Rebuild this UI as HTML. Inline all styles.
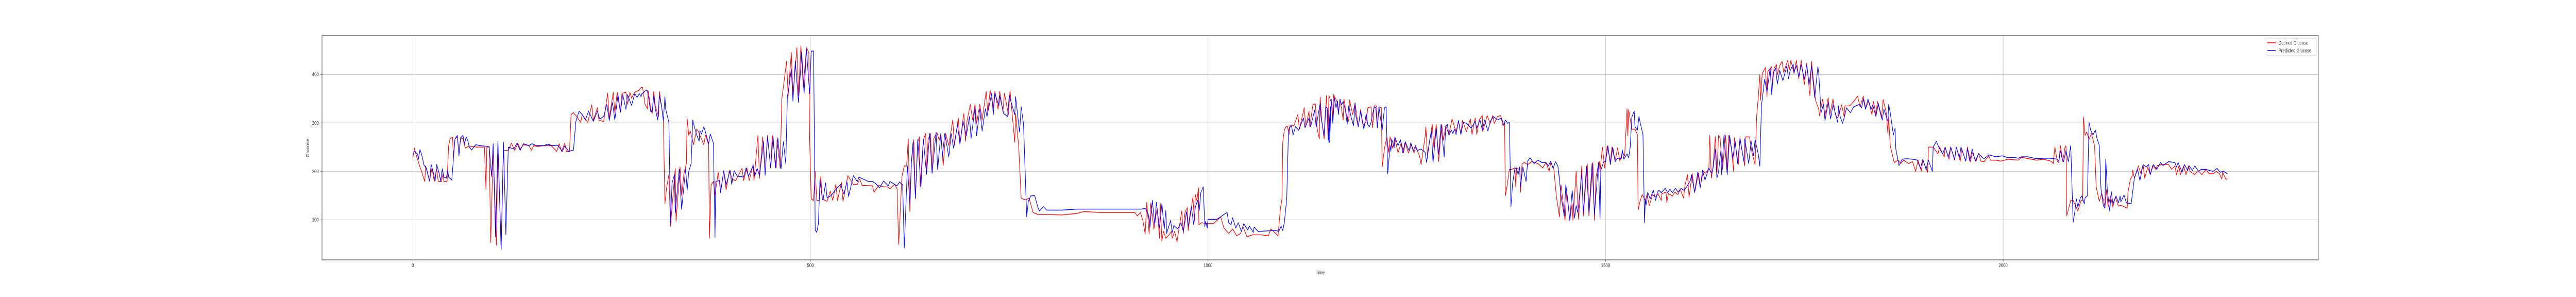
<!DOCTYPE html>
<html><head><meta charset="utf-8"><style>
html,body{margin:0;padding:0;background:#fff;width:100vw;height:100vh;overflow:hidden;}
svg{display:block;width:100vw;height:100vh;font-family:"Liberation Sans","DejaVu Sans",sans-serif;}
</style></head><body>
<svg id="chart" viewBox="0 0 6408 576" preserveAspectRatio="none" xmlns="http://www.w3.org/2000/svg">
<rect x="0" y="0" width="6408" height="576" fill="#fff"/>
<g id="grid"></g>
<g id="series"></g>
<rect x="801" y="69" width="4966" height="435" fill="none" stroke="#222" stroke-width="1"/>
<g id="ticks"></g>
<text x="3284" y="532" font-size="10" text-anchor="middle" fill="#222">Time</text>
<text x="0" y="0" font-size="10" text-anchor="middle" fill="#222" transform="translate(769,287) rotate(-90)">Glucose</text>
<g>
<rect x="5637" y="74" width="125" height="33" fill="#fff" stroke="#ccc" rx="2"/>
<line x1="5640" y1="83" x2="5661" y2="83" stroke="#f00" stroke-width="1.5"/>
<text x="5668" y="86.5" font-size="10" fill="#222">Desired Glucose</text>
<line x1="5640" y1="98" x2="5661" y2="98" stroke="#00f" stroke-width="1.5"/>
<text x="5668" y="101.5" font-size="10" fill="#222">Predicted Glucose</text>
</g>
</svg>
<script>
const xTicks=[0,500,1000,1500,2000];
const yTicks=[100,200,300,400];
const desiredT=[0,2,4,8,15,16,21,24,27,30,32,36,38,39,43,45,47,50,51,53,56,58,60,63,66,71,81,90,92,93,96,98,101,105,107,111,114,120,124,128,132,135,139,146,149,152,157,165,174,181,184,187,191,193,197,199,202,206,211,213,220,225,227,232,234,240,245,247,252,254,257,261,263,268,270,273,275,279,284,
287,289,292,295,296,299,301,303,305,309,310,313,315,317,319,322,324,330,331,336,338,341,344,345,347,349,353,357,359,366,368,372,373,375,378,380,384,387,391,394,398,402,406,414,416,420,423,428,429,434,436,440,443,446,450,452,457,458,462,464,466,470,472,476,478,483,485,488,491,495,498,499,501,504,506,508,511,513,515,521,525,528,532,534,539,541,547,554,559,562,565,578,
580,586,592,597,600,606,609,611,615,618,621,623,625,627,630,632,635,637,638,642,645,646,648,651,653,655,659,662,664,667,670,674,679,681,686,688,692,693,695,697,701,704,707,709,713,716,721,723,726,730,732,736,738,742,744,749,751,757,758,762,765,767,771,775,780,786,797,816,835,844,866,
908,911,915,918,921,923,926,928,932,936,939,940,942,944,947,951,954,955,958,961,964,967,969,971,974,975,981,983,984,986,988,988.5,992,999,1007,1016,1020,1026,1031,1036,1041,1044,1049,1056,1067,1076,1079,1085,1088,1091,1093,1094,1096,1098,1100,1102,1103,1108,1113,1115,1121,1123,1127,1128,1132,1135,1137,1140,1141,1143,1146,1149,1151,1152,
1156,1157,1158,1162,1164,1166,1170,1171,1174,1177,1178,1182,1185,1189,1192,1194,1196,1199,1201,1205,1207,1209,1212,1213,1215,1218,1219,1222,1225,1227,1229,1232,1235,1239,1243,1246,1248,1252,1256,1259,1261,1266,1268,1273,1274,1276,1282,1284,1287,1290,1294,1296,1299,1303,1307,1309,1312,1315,1318,1320,1325,1330,1332,1336,1338,1341,1345,1345.5,1351,1355,1358,1360,1364,1368,1371,1373,1374,1376,1379,1382,1386,1387,1388,1392,1393,1395,1398,1402,1407,1415,1421,1425,1429,1431,1435,1438,1442,
1444,1449,1451,1455,1458,1459,1463,1466,1470,1472,1477,1479,1484,1486,1488,1492,1493,1496,1499,1502,1506,1508,1512,1515,1518,1521,1524,1527,1528,1529,1533,1537,1540,1541,1543,1546,1550,1552,1555,1559,1563,1566,1570,1571,1576,1577,1579,1584,1587,1591,1594,1598,1600,1603,1605,1609,1612,1617,1619,1622,1623,1626,1630,1631,1633,1635,1638,1640,1642,1644,1647,1651,1653,1655,1658,1661,1662,1667,1669,1675,1676,1681,1684,1688,1690,1692,1694,1695,1697,1701,1703,1704,1709,1710,1712,1715,1716,1719,1722,1724,1729,
1731,1733,1737,1740,1743,1746,1750,1753,1757,1759,1764,1768,1769,1773,1776,1780,1782,1786,1789,1792,1797,1800,1801,1807,1812,1817,1820,1824,1827,1831,1835,1837,1840,1842,1847,1849,1853,1855,1856,1858,1863,1868,1871,1875,1881,1886,1890,1893,1897,1899,1905,1906,1912,1918,1920,1926,1927,1932,1934,1939,1941,1946,1948,1953,1955,1959,1961,1966,1969,1972,1976,1982,1984,1991,1997,2006,2019,
2023,2032,2042,2051,2060,2063,2065,2068,2070,2072,2075,2078,2079,2080,2085,2088,2094,2098,2100,2101,2103,2105,2108,2111,2115,2117,2121,2124,2128,2130,2132,2135,2138,2141,2145,2148,2156,2157,2160,2162,2163,2165,2170,2173,2176,2178,2182,2185,2188,2192,2194,2201,2208,2212,2216,2218,2221,2223,2227,2230,2233,2235,2241,2245,2250,2255,2259,2264,2268,2272,2275,2276,2280,2282];
const desiredV=[228,248,235,214,179,211,180,207,179,204,179,179,198,179,179,253,268,270,232,267,271,235,269,267,248,252,250,250,163,250,250,53,250,48,250,40,243,243,258,243,258,246,255,253,243,253,251,253,253,241,257,241,258,241,241,317,321,313,301,317,301,337,305,331,305,303,361,310,363,321,363,322,361,363,338,363,351,363,367,
373,373,338,329,366,331,319,365,334,313,365,332,306,133,165,193,87,206,97,209,149,196,216,308,274,283,255,287,282,255,275,255,62,172,179,152,198,157,201,162,201,183,181,206,181,207,181,214,181,274,186,271,196,274,207,274,207,264,207,349,374,427,356,445,356,455,356,459,374,455,445,267,143,140,200,140,140,189,143,138,159,140,173,140,177,138,191,173,173,184,171,170,
157,171,168,168,164,173,164,49,189,211,211,267,117,218,265,143,260,271,168,265,278,196,265,278,196,267,280,264,278,212,278,253,306,253,310,256,309,319,262,305,338,306,338,299,338,306,365,321,367,331,365,328,365,324,361,317,367,260,319,250,145,143,141,145,115,111,111,110,113,117,115,
115,108,115,99,71,136,71,134,81,125,62,134,56,76,62,69,76,62,76,55,87,118,72,115,125,78,146,97,152,140,166,90,94,92,92,106,83,72,81,67,72,86,65,69,69,67,81,72,67,122,143,260,285,292,292,276,294,294,317,287,331,292,324,292,338,339,290,267,353,306,267,356,267,356,
338,306,358,345,321,349,306,349,317,303,347,317,341,292,328,300,296,303,331,333,290,335,335,290,333,331,209,248,271,239,271,248,269,238,259,238,259,238,255,238,250,232,214,271,292,232,297,250,297,220,297,264,294,276,308,297,282,303,276,305,282,308,276,310,276,306,315,282,315,299,315,299,313,315,294,299,150,168,204,204,207,168,206,204,157,216,218,214,220,216,207,218,200,218,204,150,106,
172,99,157,99,133,99,200,101,211,108,216,108,218,99,189,221,200,250,207,253,220,250,221,248,221,239,232,329,273,327,287,287,276,120,136,152,140,152,129,152,147,154,140,154,157,136,154,149,157,152,163,145,172,193,147,195,156,197,168,193,200,196,207,274,186,207,271,193,274,269,204,274,200,274,250,200,269,214,269,211,271,271,239,214,313,352,399,347,402,414,354,406,416,381,413,420,399,418,427,404,429,
409,429,402,429,391,429,379,423,356,427,347,328,315,349,315,352,317,349,317,310,337,313,335,335,344,355,333,355,331,344,317,344,317,344,310,348,321,278,312,253,218,223,216,223,216,220,200,223,200,223,198,250,250,236,250,230,250,225,250,223,250,221,246,221,250,220,239,221,237,221,220,232,223,223,221,225,223,
229,226,223,225,221,216,250,221,218,253,220,252,252,108,140,140,118,140,140,312,274,281,266,278,252,168,138,155,126,162,126,149,126,147,128,130,124,157,184,189,202,186,211,196,214,186,209,193,212,204,212,214,214,204,211,193,211,193,211,193,211,200,193,202,193,204,195,195,200,195,184,198,184,184];
const predT=[0,2,6,7,9,11,14,17,21,23,26,28,30,33,35,37,39,42,44,45,49,51,53,56,58,60,63,65,67,69,71,74,79,84,96,99,101,104,107,111,114,117,120,127,131,135,139,146,150,155,165,169,176,182,188,191,196,202,205,209,213,217,221,227,232,235,240,244,247,251,254,258,261,264,268,270,275,279,282,285,
287,288,294,295,299,301,303,305,308,310,313,315,317,318,322,324,326,329,330,335,338,343,345,347,350,352,354,357,360,361,363,366,368,372,374,378,380,381,386,387,391,394,399,401,404,408,416,419,422,428,430,433,436,441,443,446,450,453,456,459,463,466,469,471,473,476,478,481,485,489,492,495,499,501,504,506,508,510,512,515,516,519,521,526,531,538,542,546,548,554,559,561,573,578,
582,587,592,598,600,609,612,616,618,622,625,627,629,632,635,639,642,646,650,653,658,660,664,666,669,674,677,680,685,688,692,696,700,702,707,709,713,716,720,722,728,730,732,737,738,743,748,750,757,758,763,765,768,772,774,777,782,786,788,793,797,816,835,866,
917,921,925,927,930,933,935,939,942,945,947,948,953,955,957,962,966,969,973,975,979,982,984,987,989,991,994,996,997,999,1000,1011,1014,1020,1024,1026,1029,1031,1035,1038,1042,1045,1050,1052,1057,1058,1063,1085,1089,1092,1094,1096,1099,1101,1102,1105,1107,1110,1114,1120,1122,1127,1129,1134,1136,1141,1142,1146,1148,1150,1152,1154,
1151,1153,1155,1157,1159,1161,1163,1164,1166,1168,1170,1173,1175,1177,1180,1183,1185,1186,1189,1192,1196,1199,1201,1203,1205,1209,1211,1213,1215,1219,1222,1224,1226,1229,1230,1231,1234,1235,1239,1242,1245,1248,1253,1255,1258,1261,1263,1268,1273,1275,1278,1281,1283,1287,1290,1293,1297,1299,1301,1303,1306,1308,1310,1312,1315,1318,1321,1325,1331,1336,1338,1342,1345,1348,1352,1355,1359,1364,1369,1372,1374,1377,1379,1381,1383,1386,1388,1390,1392,1393,1396,1400,1402,1405,1410,1415,1420,1425,1428,1431,1434,1437,1440,1442,
1441,1444,1448,1450,1452,1455,1458,1461,1463,1465,1470,1472,1476,1479,1483,1486,1491,1493,1494,1498,1500,1503,1506,1509,1512,1515,1520,1521,1523,1527,1529,1531,1533,1536,1537,1540,1542,1544,1547,1549,1550,1551,1553,1556,1560,1563,1565,1567,1570,1575,1578,1581,1584,1588,1591,1595,1598,1602,1607,1608,1612,1616,1619,1622,1625,1630,1633,1635,1638,1640,1642,1645,1646,1649,1653,1656,1660,1663,1666,1669,1674,1675,1680,1683,1686,1688,1692,1694,1696,1700,1703,1707,1709,1711,1714,1716,1719,1723,1728,
1730,1732,1736,1737,1740,1743,1746,1750,1753,1756,1759,1763,1767,1768,1771,1774,1776,1780,1783,1786,1790,1792,1793,1795,1798,1800,1803,1808,1812,1819,1822,1824,1827,1830,1834,1836,1840,1843,1848,1850,1855,1856,1858,1862,1864,1865,1869,1873,1879,1886,1892,1896,1899,1903,1906,1911,1912,1916,1919,1924,1927,1931,1934,1939,1941,1945,1947,1953,1955,1958,1961,1965,1969,1976,1982,1991,1999,2006,2013,2019,
2023,2031,2042,2051,2060,2068,2070,2072,2074,2076,2079,2081,2082,2085,2088,2090,2092,2094,2097,2099,2102,2103,2106,2108,2110,2113,2116,2118,2121,2123,2126,2128,2129,2131,2134,2136,2138,2142,2145,2147,2148,2152,2155,2161,2165,2169,2172,2176,2180,2183,2185,2189,2193,2198,2201,2208,2216,2218,2220,2225,2228,2232,2234,2238,2241,2246,2249,2255,2259,2264,2269,2273,2277,2282];
const predV=[233,242,235,225,245,235,213,207,180,214,196,180,214,196,180,205,188,186,201,188,182,225,267,274,232,269,274,257,271,264,250,244,255,253,251,189,257,65,262,39,260,69,250,246,258,243,257,253,257,253,253,256,253,254,241,253,241,244,303,324,317,306,324,303,324,308,313,338,305,342,306,358,322,358,328,358,336,360,353,360,
354,360,368,366,324,322,356,328,306,356,332,305,354,328,301,94,176,193,115,204,122,205,161,200,216,306,292,275,262,284,277,292,281,257,277,258,64,179,181,156,201,172,202,173,201,190,188,207,190,212,190,206,191,261,192,271,207,272,207,269,205,261,216,354,374,411,345,427,342,446,361,452,360,448,448,79,74,92,182,142,141,176,145,150,161,173,153,178,148,191,179,188,179,179,
175,166,180,170,179,170,178,172,42,211,135,220,260,145,266,168,266,194,278,196,280,204,278,232,278,230,278,248,296,256,303,273,313,268,331,273,329,283,329,313,361,317,361,335,356,319,313,356,317,354,281,333,297,106,138,149,150,126,118,127,120,120,122,122,
122,124,111,85,140,90,136,83,133,81,119,72,99,74,88,81,94,76,117,86,127,90,126,140,119,156,168,86,97,83,101,101,104,111,115,94,90,104,83,94,76,92,79,87,74,85,76,78,76,87,78,94,143,271,289,294,275,292,285,310,290,310,292,326,292,340,313,273,333,330,260,333,
267,260,349,299,352,331,345,317,349,337,344,324,297,335,312,294,341,314,292,324,287,319,296,292,301,333,331,290,333,285,331,333,195,253,241,267,248,271,253,265,238,261,242,259,242,253,243,246,239,218,257,283,218,288,235,296,230,292,297,274,285,278,287,276,305,276,301,299,289,303,289,306,285,306,283,303,313,306,310,296,306,299,301,127,175,206,207,193,209,168,209,179,221,228,216,223,218,218,211,221,206,220,211,182,
200,149,108,172,147,99,161,104,129,115,195,115,211,115,216,111,218,103,202,221,220,252,214,250,220,227,227,244,225,236,228,250,312,324,292,285,313,297,276,94,142,131,157,143,161,140,156,161,156,165,156,163,156,165,157,165,161,168,182,193,157,198,166,202,182,207,196,204,245,186,198,243,193,276,193,274,227,262,216,267,220,267,216,262,232,265,236,211,335,390,364,413,358,404,413,380,408,387,418,
391,407,421,404,418,395,420,390,420,379,418,352,416,404,321,338,305,342,308,338,313,301,335,313,299,310,331,321,333,338,331,349,328,349,328,337,313,340,306,328,303,338,321,275,289,246,212,225,226,225,223,206,225,204,223,200,250,262,250,236,250,229,250,225,250,229,250,221,246,221,246,221,236,226,234,230,232,228,229,227,
230,230,226,227,227,225,221,243,227,220,243,227,220,253,95,115,143,126,145,149,133,145,150,301,285,275,285,268,253,165,129,124,225,161,118,158,133,149,135,149,137,151,135,133,186,204,181,214,209,214,193,214,204,218,212,220,218,209,218,198,214,202,211,202,211,200,204,204,202,200,206,198,200,195];

const X0=1027, XS=1.978, YB=504, YMIN=17.3, YS=0.94;
function xs(t){return X0+t*XS;}
function ys(v){return YB-(v-YMIN)*YS;}
const NS='http://www.w3.org/2000/svg';
const grid=document.getElementById('grid'), ticks=document.getElementById('ticks'), series=document.getElementById('series');
function mk(tag,attrs,parent){const e=document.createElementNS(NS,tag);for(const k in attrs)e.setAttribute(k,attrs[k]);parent.appendChild(e);return e;}
xTicks.forEach(t=>{
  const g=mk('line',{x1:xs(t),x2:xs(t),y1:69,y2:504,stroke:'#b0b0b0','stroke-width':0.8},grid);
  
  
  const tk=mk('line',{x1:xs(t),x2:xs(t),y1:504,y2:507.5,stroke:'#222','stroke-width':0.8},ticks);
  
  
  const lb=mk('text',{x:xs(t),y:518,'font-size':10,'text-anchor':'middle',fill:'#222'},ticks);
  lb.textContent=String(t);
  
  
});
yTicks.forEach(v=>{
  const g=mk('line',{x1:801,x2:5767,y1:ys(v),y2:ys(v),stroke:'#b0b0b0','stroke-width':0.8},grid);
  
  
  const tk=mk('line',{x1:797.5,x2:801,y1:ys(v),y2:ys(v),stroke:'#222','stroke-width':0.8},ticks);
  
  
  const lb=mk('text',{x:793,y:ys(v)+3.5,'font-size':10,'text-anchor':'end',fill:'#222'},ticks);
  lb.textContent=String(v);
  
  
});
function path(T,V){const n=Math.min(T.length,V.length);let d='';for(let i=0;i<n;i++){d+=(i?'L':'M')+xs(T[i]).toFixed(1)+','+ys(V[i]).toFixed(1);}return d;}
const pr=mk('path',{d:path(desiredT,desiredV),fill:'none',stroke:'#ff0000','stroke-width':1.4,'stroke-linejoin':'round'},series);


const pb=mk('path',{d:path(predT,predV),fill:'none',stroke:'#0000ff','stroke-width':1.4,'stroke-linejoin':'round'},series);


</script>
</body></html>
